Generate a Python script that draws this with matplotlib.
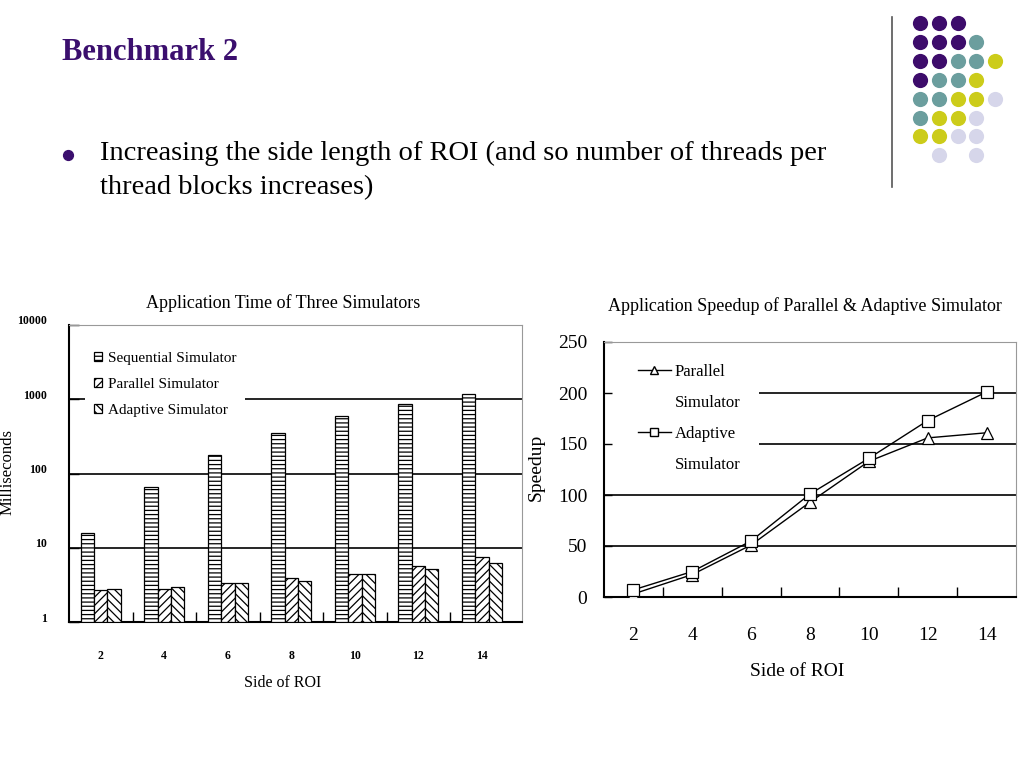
import numpy as np
import matplotlib
matplotlib.use("Agg")
import matplotlib.pyplot as plt
from matplotlib.lines import Line2D
from matplotlib.patches import Rectangle
import matplotlib.transforms as mtransforms

plt.rcParams['font.family'] = ['Liberation Serif', 'DejaVu Serif']
plt.rcParams['hatch.linewidth'] = 0.9

# ---- data ----
sides = ["2", "4", "6", "8", "10", "12", "14"]
seq_ms = [16, 66, 177, 355, 595, 870, 1190]
par_ms = [2.67, 2.81, 3.32, 3.88, 4.39, 5.62, 7.43]
ada_ms = [2.81, 2.96, 3.32, 3.53, 4.39, 5.17, 6.17]
time_ticks = [1, 10, 100, 1000, 10000]

par_speedup = [3, 22, 51, 93, 133, 156, 161]
ada_speedup = [7, 25, 55, 101, 136, 173, 201]
speed_ticks = [0, 50, 100, 150, 200, 250]

W, H = 1024, 768
fig = plt.figure(figsize=(W / 100, H / 100), dpi=100)
fig.patch.set_facecolor("white")

def px_axes(l, t, r, b):
    return fig.add_axes([l / W, (H - b) / H, (r - l) / W, (b - t) / H])

# ---- slide decoration ----
deco = fig.add_axes([0, 0, 1, 1])
deco.set_xlim(0, W)
deco.set_ylim(H, 0)
deco.axis("off")

purple = "#3b0f6e"
deco.text(62, 60, "Benchmark 2", fontsize=22, fontweight="bold", color=purple, va="baseline")
deco.scatter([68], [155], s=50, color=purple)
deco.text(100, 160, "Increasing the side length of ROI (and so number of threads per",
          fontsize=20.5, va="baseline")
deco.text(100, 194, "thread blocks increases)", fontsize=20.5, va="baseline")
deco.plot([892, 892], [17, 187], color="#555555", lw=1.2)

dot_rows = ["PPP..", "PPPT.", "PPTTY", "PTTY.", "TTYYL", "TYYL.", "YYLL.", ".L.L."]
dot_colors = {"P": "#3d0c6b", "T": "#6b9e9e", "Y": "#cccc1a", "L": "#d6d6ea"}
for r, row in enumerate(dot_rows):
    for c, ch in enumerate(row):
        if ch in dot_colors:
            deco.scatter(920 + 18.8 * c, 23 + 18.9 * r, s=120, color=dot_colors[ch], lw=0)

# ---- left chart: application time ----
ax1 = px_axes(69, 325, 522, 622)
x = np.arange(len(sides))
w = 0.21
base = 1  # log axis starts at 1 ms
ax1.bar(x - w, np.array(seq_ms) - base, w, bottom=base, color="white", edgecolor="black",
        hatch="----", lw=0.9, label="Sequential Simulator", zorder=3)
ax1.bar(x, np.array(par_ms) - base, w, bottom=base, color="white", edgecolor="black",
        hatch="////", lw=0.9, label="Parallel Simulator", zorder=3)
ax1.bar(x + w, np.array(ada_ms) - base, w, bottom=base, color="white", edgecolor="black",
        hatch="\\\\\\\\", lw=0.9, label="Adaptive Simulator", zorder=3)
ax1.set_yscale("log")
ax1.set_ylim(1, 10000)
ax1.set_xlim(-0.5, 6.63)
for v in time_ticks[1:-1]:
    ax1.axhline(v, color="black", lw=1.2, zorder=1)
ax1.set_yticks(time_ticks)
ax1.set_yticklabels([str(t) for t in time_ticks], fontsize=8.5, fontweight="bold")
ax1.yaxis.set_minor_locator(matplotlib.ticker.NullLocator())
ax1.set_xticks(x)
ax1.set_xticklabels(sides, fontsize=8.5, fontweight="bold")
ax1.set_xticks(x[:-1] + 0.5, minor=True)
ax1.tick_params(axis="x", which="major", length=0, pad=20)
ax1.tick_params(axis="x", which="minor", direction="in", length=7, width=1)
ax1.tick_params(axis="y", which="major", direction="in", length=7, width=1, pad=16)
off = mtransforms.ScaledTranslation(0, 5 / 100, fig.dpi_scale_trans)
for lab in ax1.get_yticklabels():
    lab.set_transform(lab.get_transform() + off)
for s in ["left", "bottom"]:
    ax1.spines[s].set_linewidth(1.5)
for s in ["top", "right"]:
    ax1.spines[s].set_color("#999999")
ax1.set_ylabel("Milliseconds", fontsize=12)
ax1.yaxis.set_label_coords(-0.117, 0.505)
ax1.set_xlabel("Side of ROI", fontsize=11.5)
ax1.xaxis.set_label_coords(0.472, -0.18)
ax1.text(0.472, 1.074, "Application Time of Three Simulators", transform=ax1.transAxes,
         ha="center", va="center", fontsize=13)
leg1 = ax1.legend(loc="upper left", bbox_to_anchor=(0.035, 0.94), borderaxespad=0,
                  fontsize=11, handlelength=0.55, handleheight=0.55, handletextpad=0.35,
                  labelspacing=0.85, borderpad=0.6, fancybox=False, framealpha=1)
leg1.get_frame().set_edgecolor("none")

# ---- right chart: speedup ----
ax2 = px_axes(604, 342, 1016, 597)
ax2.plot(x, par_speedup, color="black", lw=1, marker="^", ms=8, mfc="white", mec="black",
         mew=0.9, zorder=4)
ax2.plot(x, ada_speedup, color="black", lw=1, marker="s", ms=8, mfc="white", mec="black",
         mew=0.9, zorder=4)
ax2.set_ylim(0, 250)
ax2.set_xlim(-0.5, 6.5)
for v in speed_ticks[1:-1]:
    ax2.axhline(v, color="black", lw=1.2, zorder=1)
ax2.add_patch(Rectangle((0.003, 0.47), 0.373, 0.52, transform=ax2.transAxes,
                        facecolor="white", edgecolor="none", zorder=1.5))
ax2.set_yticks(speed_ticks)
ax2.set_yticklabels([str(t) for t in speed_ticks], fontsize=14)
ax2.set_xticks(x)
ax2.set_xticklabels(sides, fontsize=14)
ax2.set_xticks(x[:-1] + 0.5, minor=True)
ax2.tick_params(axis="x", which="major", length=0, pad=21.5)
ax2.tick_params(axis="x", which="minor", direction="in", length=7, width=1)
ax2.tick_params(axis="y", which="major", direction="in", length=6, width=1, pad=12)
for s in ["left", "bottom"]:
    ax2.spines[s].set_linewidth(1.5)
for s in ["top", "right"]:
    ax2.spines[s].set_color("#999999")
ax2.set_ylabel("Speedup", fontsize=14)
ax2.yaxis.set_label_coords(-0.143, 0.508)
ax2.set_xlabel("Side of ROI", fontsize=14)
ax2.xaxis.set_label_coords(0.468, -0.257)
ax2.text(0.488, 1.142, "Application Speedup of Parallel & Adaptive Simulator",
         transform=ax2.transAxes, ha="center", va="center", fontsize=13)
blank = Line2D([], [], color="none")
h_par = Line2D([], [], color="black", lw=1, marker="^", ms=6, mfc="white", mec="black")
h_ada = Line2D([], [], color="black", lw=1, marker="s", ms=6, mfc="white", mec="black")
ax2.legend([h_par, blank, h_ada, blank],
           ["Parallel", "Simulator", "Adaptive", "Simulator"],
           loc="upper left", bbox_to_anchor=(0.082, 0.915), borderaxespad=0, borderpad=0,
           fontsize=12, handlelength=2.0, handletextpad=0.2, labelspacing=0.9, frameon=False)

fig.savefig("out.png", dpi=100, facecolor="white")
